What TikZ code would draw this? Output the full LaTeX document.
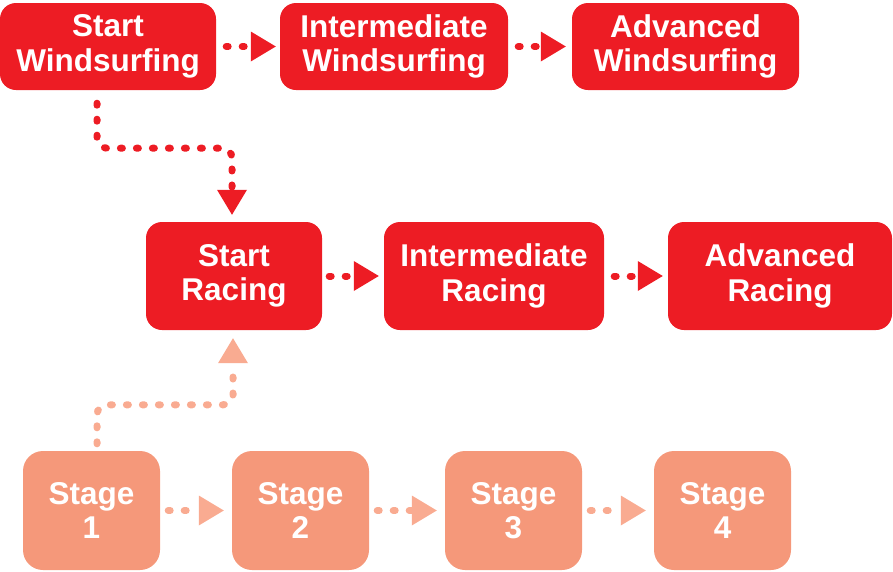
\documentclass[tikz,border=0pt]{standalone}
\usepackage{fontspec}
\setmainfont{Liberation Sans}
\usetikzlibrary{arrows.meta}
\definecolor{boxred}{HTML}{ED1C24}
\definecolor{boxsalmon}{HTML}{F5987A}
\definecolor{arrsalmon}{HTML}{F9AB91}
\tikzset{
  redbox/.style={fill=boxred, rounded corners=16pt, text=white, align=center,
    font=\fontsize{31.5pt}{34.5pt}\selectfont\bfseries, inner sep=0pt},
  stagebox/.style={fill=boxsalmon, rounded corners=20pt, text=white, align=center,
    font=\fontsize{31.5pt}{33.5pt}\selectfont\bfseries, inner sep=0pt,
    minimum width=137pt, minimum height=119pt},
  dotline/.style={line width=7pt, line cap=round, dash pattern=on 2pt off 14pt,
    -{Triangle[length=25pt,width=30pt,line width=0pt 0]}},
  redconn/.style={dotline, draw=boxred},
  salconn/.style={dotline, draw=arrsalmon},
}
\begin{document}
\begin{tikzpicture}[x=1pt,y=-1pt]
\useasboundingbox (0,0) rectangle (893,571);
% top row
\node[redbox, minimum width=216pt, minimum height=87pt] (SW) at (108,46.5) {Start\\Windsurfing};
\node[redbox, minimum width=228pt, minimum height=87pt] (IW) at (394,46.5) {Intermediate\\Windsurfing};
\node[redbox, minimum width=227pt, minimum height=87pt] (AW) at (685.5,46.5) {Advanced\\Windsurfing};
% middle row
\node[redbox, minimum width=176pt, minimum height=108pt] (SR) at (234,276) {Start\\Racing};
\node[redbox, minimum width=220pt, minimum height=108pt] (IR) at (494,276) {Intermediate\\Racing};
\node[redbox, minimum width=224pt, minimum height=108pt] (AR) at (780,276) {Advanced\\Racing};
% bottom row
\node[stagebox] (S1) at (91.5,510.5) {Stage\\1};
\node[stagebox] (S2) at (300.5,510.5) {Stage\\2};
\node[stagebox] (S3) at (513.5,510.5) {Stage\\3};
\node[stagebox] (S4) at (722.5,510.5) {Stage\\4};
% connectors top
\draw[redconn, shorten <=10pt, shorten >=4pt] (SW.east) -- (IW.west);
\draw[redconn, shorten <=10pt, shorten >=6pt] (IW.east) -- (AW.west);
\draw[redconn, shorten <=7pt, shorten >=5pt] (SR.east) -- (IR.west);
\draw[redconn, shorten <=10pt, shorten >=5pt] (IR.east) -- (AR.west);
\draw[redconn, rounded corners=10pt, shorten <=13pt, shorten >=7pt]
  ([xshift=-11pt]SW.south) -- ++(0,58) -| ([xshift=-2pt]SR.north);
% connectors bottom
\draw[salconn, shorten <=8pt, shorten >=8pt] (S1.east) -- (S2.west);
\draw[salconn, shorten <=8pt, shorten >=8pt] (S2.east) -- (S3.west);
\draw[salconn, shorten <=8pt, shorten >=8pt] (S3.east) -- (S4.west);
\draw[salconn, rounded corners=10pt, shorten <=7pt, shorten >=8pt]
  ([xshift=5.5pt]S1.north) -- ++(0,-46) -| ([xshift=-1pt]SR.south);
\end{tikzpicture}
\end{document}
